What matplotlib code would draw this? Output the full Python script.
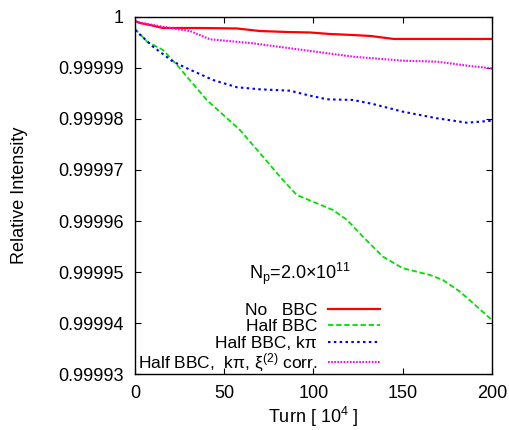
import matplotlib
matplotlib.use("Agg")
from matplotlib import pyplot as plt

plt.rcParams["font.family"] = ["Liberation Sans", "DejaVu Sans"]
plt.rcParams["mathtext.fontset"] = "custom"
plt.rcParams["mathtext.rm"] = "Liberation Sans"
plt.rcParams["mathtext.it"] = "Liberation Sans:italic"

# turns in units of 1e4
turn_nobbc = [0, 2.8, 8.4, 15.7, 36, 57, 70, 85, 98, 109, 122, 132, 145, 200]
nobbc = [0.99999922, 0.99999882, 0.99999843, 0.99999784, 0.99999784,
         0.99999775, 0.99999725, 0.99999706, 0.99999696, 0.99999667,
         0.99999647, 0.99999627, 0.99999569, 0.99999569]

turn_half = [0, 0.6, 6.7, 15.7, 23.5, 40.2, 58.8, 71.7, 81.2, 90.6, 99.7,
             110.9, 118.8, 127.7, 138.9, 150.1, 165.3, 172.5, 182.1, 191.6, 200]
half = [0.99999784, 0.99999745, 0.99999516, 0.99999353, 0.99999059,
        0.99998373, 0.99997784, 0.99997261, 0.99996869, 0.99996510,
        0.99996378, 0.99996216, 0.99996020, 0.99995692, 0.99995300,
        0.99995073, 0.99994941, 0.99994843, 0.99994614, 0.99994320,
        0.99994059]

turn_kpi = [0, 10.1, 21.3, 29.1, 43.7, 57.1, 70.0, 86.8, 96.4, 107.6, 122.1,
            133.3, 150.1, 169.2, 186.0, 200]
kpi = [0.99999745, 0.99999418, 0.99999124, 0.99998994, 0.99998765,
       0.99998622, 0.99998582, 0.99998555, 0.99998471, 0.99998386,
       0.99998373, 0.99998294, 0.99998143, 0.99998014, 0.99997927,
       0.99997967]

turn_corr = [0, 19.6, 30.8, 42.0, 66.1, 94.1, 122.1, 150.1, 169.2, 187.7, 200]
corr = [0.99999908, 0.99999784, 0.99999725, 0.99999563, 0.99999484,
        0.99999353, 0.99999222, 0.99999143, 0.99999124, 0.99999039,
        0.99998994]

labels = ["No   BBC", "Half BBC", "Half BBC, k\u03c0",
          "Half BBC,  k\u03c0, \u03be$^{(2)}$ corr."]
xticks = [0, 50, 100, 150, 200]
yticks = [0.99993, 0.99994, 0.99995, 0.99996, 0.99997, 0.99998, 0.99999, 1.0]
ytick_labels = ["0.99993", "0.99994", "0.99995", "0.99996", "0.99997",
                "0.99998", "0.99999", "1"]

fig = plt.figure(figsize=(5.1, 4.3), dpi=100)
ax = fig.add_axes([0.2647, 0.1302, 0.7, 0.8303])

ax.plot(turn_nobbc, nobbc, color="#ff0000", lw=1.6, label=labels[0])
ax.plot(turn_half, half, color="#00e000", lw=1.3, dashes=(3, 1.5), label=labels[1])
ax.plot(turn_kpi, kpi, color="#0000ff", lw=1.5, dashes=(1.2, 1.6), label=labels[2])
ax.plot(turn_corr, corr, color="#ff00ff", lw=1.5, dashes=(0.8, 0.7), label=labels[3])

ax.set_xlim(0, 200)
ax.set_ylim(0.99993, 1.0)
ax.set_xticks(xticks)
ax.set_xticklabels([str(t) for t in xticks])
ax.set_yticks(yticks)
ax.set_yticklabels(ytick_labels)
ax.tick_params(direction="in", length=4.5, width=0.8, labelsize=13,
               top=True, right=True, pad=8)
for s in ax.spines.values():
    s.set_linewidth(1.0)

ax.set_xlabel("Turn [ 10$^{4}$ ]", fontsize=13, labelpad=2)
ax.set_ylabel("Relative Intensity", fontsize=13, labelpad=22)

ax.text(0.462, 0.28, "N$_\\mathregular{p}$=2.0\u00d710$^{\\mathregular{11}}$",
        transform=ax.transAxes, ha="center", va="center", fontsize=13)

ax.legend(loc="lower right", bbox_to_anchor=(0.695, -0.01), markerfirst=False,
          frameon=False, fontsize=12.5, handlelength=3.0, handletextpad=0.6,
          labelspacing=0.08, borderpad=0.2, borderaxespad=0.0)

fig.savefig("out.png", dpi=100)
